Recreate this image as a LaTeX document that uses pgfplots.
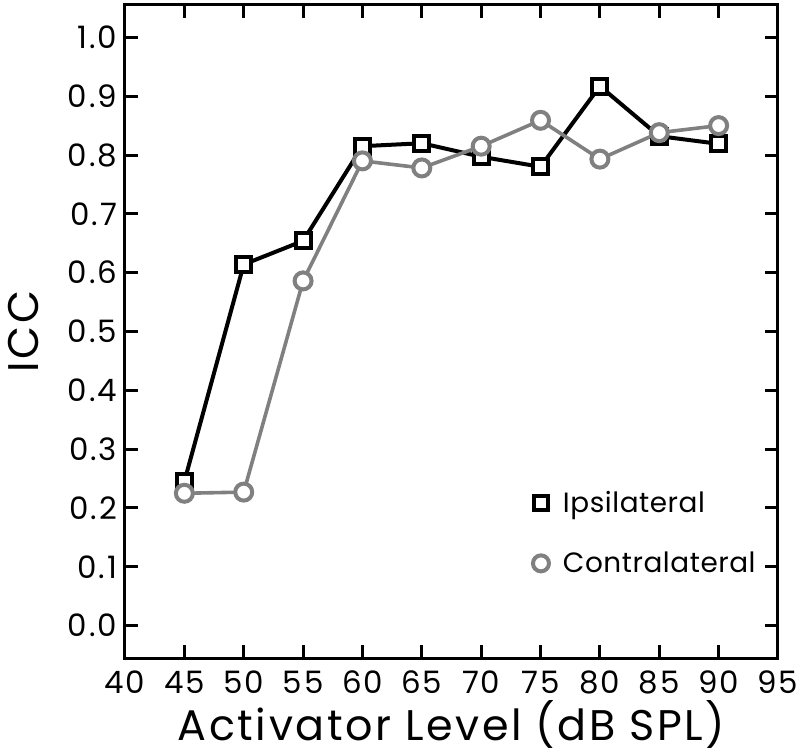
\documentclass[border=0pt]{standalone}
\usepackage{fontspec}
\setmainfont{Poppins}
\usepackage{pgfplots}
\pgfplotsset{compat=1.18}
\definecolor{cgray}{RGB}{128,128,128}
\begin{document}
\begin{tikzpicture}
\begin{axis}[
  scale only axis,
  width=326.5bp, height=326.5bp,
  xmin=40, xmax=95, ymin=-0.055, ymax=1.055,
  xtick={40,45,...,95},
  ytick={0,0.1,...,1.0},
  tick align=inside,
  tick pos=both,
  major tick length=6.5bp,
  axis line style={line width=1.5bp},
  every tick/.style={line width=1.5bp, black},
  /pgf/number format/assume math mode=true,
  yticklabel style={/pgf/number format/fixed, /pgf/number format/fixed zerofill, /pgf/number format/precision=1, xshift=-0.5bp},
  xticklabel style={/pgf/number format/fixed, yshift=-3bp},
  tick label style={font=\fontsize{15.5}{18}\selectfont\addfontfeature{LetterSpace=6}},
  xlabel={Activator Level (dB SPL)},
  ylabel={ICC},
  label style={font=\fontsize{21.5}{24}\selectfont\addfontfeature{LetterSpace=6}},
  xlabel style={at={(axis description cs:0.5,-0.127)}, anchor=base},
  ylabel style={at={(axis description cs:-0.156,0.5)}, anchor=center},
  legend style={draw=none, fill=none, font=\fontsize{14}{16}\selectfont\addfontfeature{LetterSpace=2},
    at={(axis description cs:0.615,0.268)}, anchor=north west, row sep=14bp, column sep=5bp},
  legend cell align=left,
]
\addlegendimage{only marks, mark=square*, mark size=3.5bp, mark options={line width=2bp, draw=black, fill=white}}
\addlegendentry{Ipsilateral}
\addlegendimage{only marks, mark=*, mark size=4bp, mark options={line width=2bp, draw=cgray, fill=white}}
\addlegendentry{Contralateral}
\addplot[forget plot, black, line width=2bp, mark=square*, mark size=3.75bp,
  mark options={line width=2bp, draw=black, fill=white}] coordinates {
  (45,0.245) (50,0.614) (55,0.654) (60,0.815) (65,0.820)
  (70,0.797) (75,0.780) (80,0.917) (85,0.832) (90,0.819)
};
\addplot[forget plot, cgray, line width=1.8bp, mark=*, mark size=4.25bp,
  mark options={line width=2bp, draw=cgray, fill=white}] coordinates {
  (45,0.225) (50,0.227) (55,0.586) (60,0.790) (65,0.778)
  (70,0.815) (75,0.859) (80,0.793) (85,0.838) (90,0.850)
};
\coordinate (A) at (rel axis cs:0,0);
\coordinate (B) at (rel axis cs:1,1);
\end{axis}
\pgfresetboundingbox
\path ([shift={(-62.5bp,-48.5bp)}]A) rectangle ([shift={(11bp,2.5bp)}]B);
\end{tikzpicture}
\end{document}
